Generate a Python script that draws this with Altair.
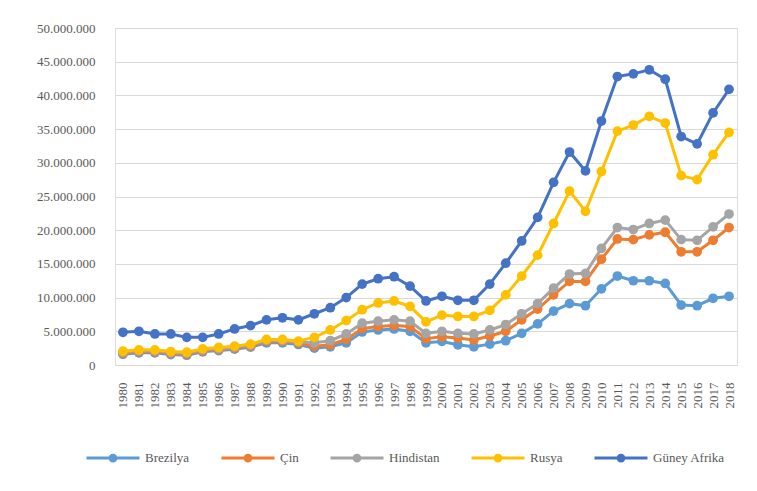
import altair as alt
import pandas as pd

years = list(range(1980, 2019))

series_names = ["Brezilya", "Çin", "Hindistan", "Rusya", "Güney Afrika"]
series_colors = ["#5B9BD5", "#ED7D31", "#A5A5A5", "#FFC000", "#4472C4"]

brezilya = [1.6, 1.8, 1.8, 1.55, 1.45, 1.95, 2.15, 2.35, 2.65, 3.3, 3.3, 3.05,
            2.5, 2.7, 3.3, 4.9, 5.2, 5.35, 5.0, 3.3, 3.5, 3.0, 2.7, 3.1,
            3.6, 4.7, 6.1, 8.0, 9.1, 8.8,
            11.3, 13.2, 12.5, 12.5, 12.1, 8.9, 8.8, 9.9, 10.2]
cin = [1.75, 1.95, 1.95, 1.7, 1.6, 2.1, 2.3, 2.5, 2.8, 3.5, 3.5, 3.25,
       2.8, 3.0, 3.8, 5.4, 5.7, 5.85, 5.7, 3.9, 4.2, 4.0, 3.7, 4.3,
       5.0, 6.7, 8.3, 10.4, 12.4, 12.4,
       15.7, 18.7, 18.6, 19.3, 19.7, 16.8, 16.8, 18.5, 20.4]
hindistan = [1.9, 2.1, 2.1, 1.85, 1.75, 2.25, 2.45, 2.65, 2.95, 3.65, 3.65, 3.4,
             3.3, 3.6, 4.6, 6.2, 6.5, 6.7, 6.5, 4.7, 5.0, 4.7, 4.6, 5.2,
             6.0, 7.6, 9.1, 11.4, 13.5, 13.6,
             17.3, 20.4, 20.1, 21.0, 21.5, 18.6, 18.5, 20.5, 22.4]
rusya = [2.05, 2.25, 2.25, 2.0, 1.9, 2.4, 2.6, 2.8, 3.1, 3.8, 3.8, 3.55,
         4.1, 5.2, 6.6, 8.2, 9.2, 9.5, 8.7, 6.4, 7.4, 7.2, 7.2, 8.1,
         10.4, 13.2, 16.3, 21.0, 25.8, 22.8,
         28.7, 34.7, 35.6, 36.9, 35.9, 28.1, 27.5, 31.2, 34.5]
guney_afrika = [4.85, 5.0, 4.6, 4.6, 4.1, 4.1, 4.6, 5.35, 5.85, 6.7, 7.0, 6.7,
                7.6, 8.5, 10.0, 12.0, 12.8, 13.1, 11.7, 9.5, 10.2, 9.6, 9.6, 12.0,
                15.1, 18.4, 21.9, 27.1, 31.6, 28.8,
                36.2, 42.8, 43.2, 43.8, 42.4, 33.9, 32.8, 37.4, 40.9]

values_by_series = [brezilya, cin, hindistan, rusya, guney_afrika]

rows = []
for name, vals in zip(series_names, values_by_series):
    for y, v in zip(years, vals):
        rows.append({"Yil": str(y), "Ulke": name, "Deger": v * 1_000_000})
df = pd.DataFrame(rows)

FONT = "Times New Roman"
TEXT = "#595959"
GRID = "#D9D9D9"

x_enc = alt.X("Yil:O", title=None,
              scale=alt.Scale(type="point", padding=0.5),
              axis=alt.Axis(labelAngle=270, labelPadding=17, ticks=False,
                            domain=True, domainColor=GRID, domainWidth=1.2,
                            grid=False, labelFont=FONT, labelFontSize=13,
                            labelColor=TEXT))
y_enc = alt.Y("Deger:Q", title=None,
              scale=alt.Scale(domain=[0, 50_000_000], nice=False),
              axis=alt.Axis(values=[i * 5_000_000 for i in range(11)],
                            labelExpr="replace(format(datum.value, ','), regexp(',', 'g'), '.')",
                            domain=False, ticks=False, labelPadding=20,
                            gridColor=GRID, gridWidth=1.2,
                            labelFont=FONT, labelFontSize=13, labelColor=TEXT))

legend_path = ("M-1,0H1M-0.11,0A0.11,0.11 0 1,1 0.11,0"
               "A0.11,0.11 0 1,1 -0.11,0Z")
color_scale = alt.Scale(domain=series_names, range=series_colors)
color_enc = alt.Color("Ulke:N", scale=color_scale, sort=series_names,
                      legend=alt.Legend(title=None, orient="none",
                                        direction="horizontal",
                                        legendX=-30, legendY=402,
                                        symbolType=legend_path,
                                        symbolSize=2809,
                                        symbolStrokeWidth=3,
                                        labelOffset=4, columnPadding=25,
                                        padding=0,
                                        labelFont=FONT, labelFontSize=13,
                                        labelColor=TEXT))

base = alt.Chart(df)
layers = []
for name in series_names:
    sub = base.transform_filter(alt.datum.Ulke == name)
    layers.append(sub.mark_line(strokeWidth=3).encode(x=x_enc, y=y_enc, color=color_enc))
    layers.append(sub.mark_point(filled=True, shape="circle", size=95, opacity=1)
                  .encode(x=x_enc, y=y_enc, color=color_enc))

chart = alt.layer(*layers).properties(
    width=622, height=337,
    autosize=alt.AutoSizeParams(type="none"),
    padding={"left": 107, "top": 20, "right": 12, "bottom": 118},
    background="white",
).configure_view(stroke=None).configure(font=FONT)

chart.save("out.html", embed_options={"renderer": "svg", "actions": False})
